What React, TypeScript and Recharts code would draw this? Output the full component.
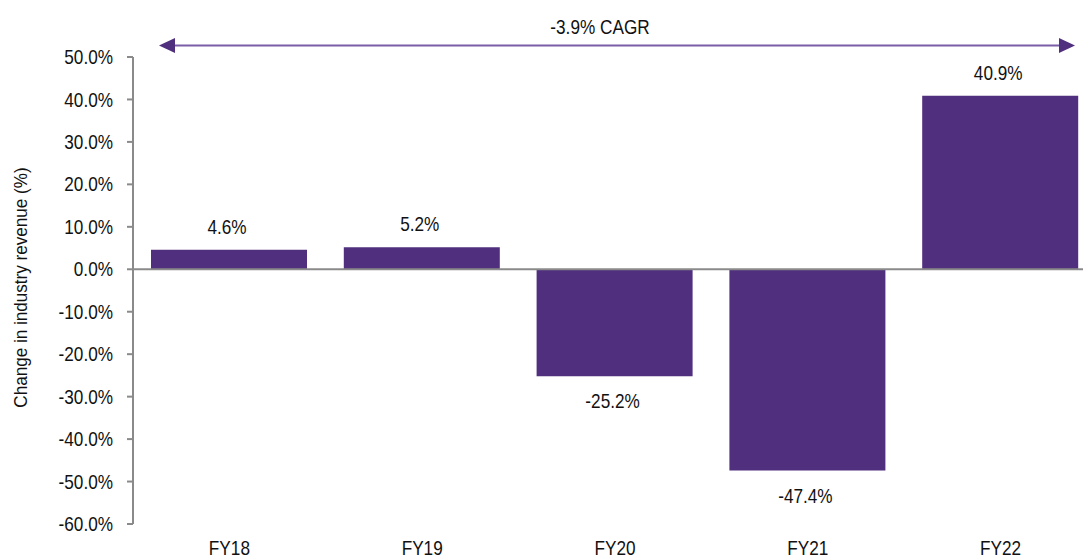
import { BarChart, Bar, XAxis, YAxis, ReferenceLine, LabelList } from "recharts";

const categories = ["FY18", "FY19", "FY20", "FY21", "FY22"];
const revenueChange = [4.6, 5.2, -25.2, -47.4, 40.9];
const yTicks = [-60, -50, -40, -30, -20, -10, 0, 10, 20, 30, 40, 50];
const cagrLabel = "-3.9% CAGR";

const data = categories.map((name, i) => ({ name, value: revenueChange[i] }));

const FONT = "'Liberation Sans Narrow', 'Arial Narrow', 'Liberation Sans', Arial, sans-serif";
const PURPLE = "#4F2F7E";
const SQUEEZE = 0.86; // no narrow font installed, so squeeze Liberation Sans a bit

const pct = (v: number) => `${v.toFixed(1)}%`;

// text drawn a little condensed, like Arial Narrow in the original
const NarrowText = ({ x, y, anchor = "middle", dy = "0.355em", size = 20, sx = SQUEEZE, children }: any) => (
    <text
        transform={`translate(${x},${y}) scale(${sx},1)`}
        textAnchor={anchor}
        dy={dy}
        fontSize={size}
        fill="#111"
    >
        {children}
    </text>
);

const YTick = (props: any) => {
    const { x, y, payload } = props;
    return <NarrowText x={x} y={y} anchor="end">{pct(payload.value)}</NarrowText>;
};

const XTick = (props: any) => {
    const { x, y, payload } = props;
    return <NarrowText x={x} y={y} dy="0.71em">{payload.value}</NarrowText>;
};

const ValueLabel = (props: any) => {
    const { x, y, width, height, value } = props;
    const top = Math.min(y, y + height);
    const bottom = Math.max(y, y + height);
    const ty = value >= 0 ? top - 23 : bottom + 25;
    return <NarrowText x={x + width / 2 - 2} y={ty}>{pct(value)}</NarrowText>;
};

const AxisTitle = (props: any) => {
    const { viewBox } = props;
    const cy = viewBox.y + viewBox.height / 2 - 3;
    return (
        <text
            transform={`translate(21,${cy}) rotate(-90) scale(0.95,1)`}
            textAnchor="middle"
            dy="0.355em"
            fontSize={18}
            fill="#111"
        >
            Change in industry revenue (%)
        </text>
    );
};

const App = () => {
    return (
        <div style={{ position: "relative", width: 1083, height: 559, overflow: "hidden", fontFamily: FONT, background: "#fff" }}>
            <style>{`body{margin:0}`}</style>
            <BarChart width={1097} height={559} data={data} margin={{ top: 57, right: 0, left: 0, bottom: 0 }}>
                <YAxis
                    width={133}
                    domain={[-60, 50]}
                    ticks={yTicks}
                    axisLine={{ stroke: "#8a8a8a", strokeWidth: 2 }}
                    tickLine={{ stroke: "#8a8a8a", strokeWidth: 2 }}
                    tickSize={6}
                    tickMargin={14}
                    tick={<YTick />}
                    label={<AxisTitle />}
                />
                <XAxis
                    dataKey="name"
                    height={35}
                    axisLine={false}
                    tickLine={false}
                    tickMargin={11}
                    tick={<XTick />}
                />
                <ReferenceLine y={0} stroke="#8a8a8a" strokeWidth={2} />
                <Bar dataKey="value" fill={PURPLE} barSize={156} isAnimationActive={false}>
                    <LabelList dataKey="value" content={<ValueLabel />} />
                </Bar>
            </BarChart>
            <svg width={1083} height={60} style={{ position: "absolute", left: 0, top: 0, pointerEvents: "none" }}>
                <line x1={172} y1={45.5} x2={1062} y2={45.5} stroke="#7A5FA8" strokeWidth={2} />
                <polygon points="159,45.5 175,38 175,53" fill={PURPLE} />
                <polygon points="1075,45.5 1059,38 1059,53" fill={PURPLE} />
                <NarrowText x={600} y={27}>{cagrLabel}</NarrowText>
            </svg>
        </div>
    );
};

export default App;
